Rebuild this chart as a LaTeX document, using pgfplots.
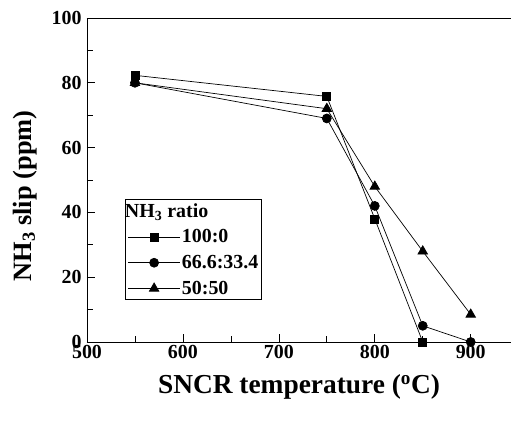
\documentclass[border=0pt]{standalone}
\usepackage{fontspec}
\setmainfont{Liberation Serif}
\usepackage{pgfplots}
\pgfplotsset{compat=1.18}
\pgfkeys{/pgf/number format/assume math mode=true}
\newcommand{\tkfont}{\bfseries\fontsize{20}{20}\selectfont}
\begin{document}
\begin{tikzpicture}[x=1bp,y=1bp]
\begin{axis}[
  name=ax,
  scale only axis,
  width=424bp, height=324bp,
  xmin=500, xmax=942, ymin=0, ymax=100,
  axis x line*=box, axis y line*=left,
  axis line style={-, line width=0.9pt},
  xtick={500,600,700,800,900},
  minor xtick={550,650,750,850},
  ytick={0,20,40,60,80,100},
  minor ytick={10,30,50,70,90},
  xtick pos=bottom, ytick pos=left,
  tick align=inside,
  major tick length=8bp, minor tick length=6bp,
  every tick/.style={black, line width=0.7pt},
  tick label style={font=\tkfont},
  x tick label style={font=\tkfont},
  xticklabels={{\tkfont 500},{\tkfont 600},{\tkfont 700},{\tkfont 800},{\tkfont 900}},
  yticklabels={{\tkfont 0},{\tkfont 20},{\tkfont 40},{\tkfont 60},{\tkfont 80},{\tkfont 100}},
  yticklabel style={xshift=-2bp},
  xlabel={SNCR temperature (\textsuperscript{o}C)},
  ylabel={NH\textsubscript{3} slip (ppm)},
  xlabel style={font=\bfseries\fontsize{27.5}{27.5}\selectfont, yshift=-9bp},
  ylabel style={font=\bfseries\fontsize{26.5}{26.5}\selectfont, yshift=8bp, xshift=-16bp},
  clip=false,
  legend style={at={(axis cs:540,44)}, anchor=north west, draw=black, line width=0.8pt,
    font=\bfseries\fontsize{20}{20}\selectfont, inner sep=2bp, row sep=8bp,
    nodes={inner sep=1.5bp}},
  legend cell align=left,
  legend image code/.code={\draw[mark repeat=2,mark phase=2] plot coordinates {(0bp,0bp) (26bp,0bp) (52bp,0bp)};},
]
\addlegendimage{empty legend}
\addlegendentry{\hspace{-57bp}NH\textsubscript{3} ratio\rule[-4bp]{0pt}{4bp}}
\addplot[black, line width=0.7pt, mark=square*, mark size=4bp] coordinates {
(550,82.3) (750,75.8) (800,38) (850,0)};
\addlegendentry{100:0}
\addplot[black, line width=0.7pt, mark=*, mark size=4.5bp] coordinates {
(550,80) (750,69) (800,42) (850,5) (900,0)};
\addlegendentry{66.6:33.4}
\addplot[black, line width=0.7pt, mark=triangle*, mark size=5.5bp] coordinates {
(550,80) (750,72) (800,48) (850,28) (900,8.5)};
\addlegendentry{50:50}
\end{axis}
\pgfresetboundingbox
\path[use as bounding box] ([shift={(-87bp,-79bp)}]ax.south west) rectangle ([shift={(0bp,18bp)}]ax.north east);
\end{tikzpicture}
\end{document}
